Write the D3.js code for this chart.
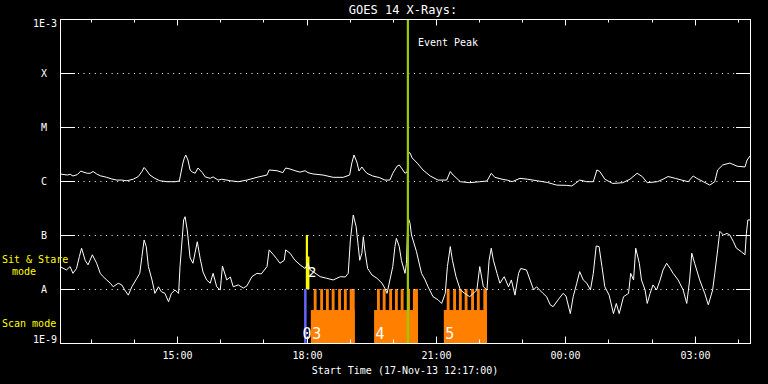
<!DOCTYPE html>
<html lang="en">
<head>
<meta charset="UTF-8">
<title>GOES 14 X-Rays</title>
<style>
  html, body { margin: 0; padding: 0; background: #000; }
  svg { display: block; background: #000; }
  text { font-family: "DejaVu Sans Mono", monospace; fill: #fff; font-size: 10px; }
  .yel { fill: #ff0; }
</style>
</head>
<body>
<svg width="768" height="384"></svg>
<script src="https://d3js.org/d3.v7.min.js"></script>
<script>
  const startTime = new Date(Date.UTC(2013, 10, 17, 12, 17));
  const spanMinutes = 960;

  // GOES 14 long channel (1-8 A): [minutes after start, W/m^2]
  const longFlux = [
    [0,1.35e-6],[10,1.29e-6],[14,1.33e-6],[18,1.24e-6],[24,1.31e-6],[29,1.53e-6],[32,1.47e-6],[38,1.39e-6],
    [42,1.39e-6],[46,1.50e-6],[51,1.35e-6],[56,1.25e-6],[65,1.17e-6],[72,1.09e-6],[79,1.04e-6],[86,1.04e-6],
    [93,1.01e-6],[102,1.08e-6],[109,1.21e-6],[114,1.50e-6],[117,1.78e-6],[120,1.60e-6],[125,1.29e-6],[132,1.12e-6],
    [139,1.01e-6],[149,9.7e-7],[160,9.7e-7],[166,1.0e-6],[171,2.15e-6],[173,2.67e-6],[175,3.03e-6],[178,2.45e-6],
    [181,1.60e-6],[184,1.47e-6],[188,1.39e-6],[192,1.74e-6],[198,1.43e-6],[202,1.19e-6],[209,1.12e-6],[213,1.19e-6],
    [220,1.04e-6],[225,1.08e-6],[237,1.01e-6],[248,9.7e-7],[260,1.04e-6],[274,1.17e-6],[288,1.29e-6],[291,1.60e-6],
    [302,1.55e-6],[310,1.43e-6],[314,1.74e-6],[320,1.67e-6],[327,1.55e-6],[334,1.46e-6],[341,1.55e-6],[345,1.43e-6],
    [352,1.35e-6],[366,1.29e-6],[380,1.17e-6],[394,1.17e-6],[403,1.29e-6],[406,2.15e-6],[409,3.03e-6],[413,2.25e-6],
    [416,1.53e-6],[420,1.82e-6],[423,1.60e-6],[427,1.39e-6],[435,1.24e-6],[445,1.15e-6],[452,1.04e-6],[459,1.04e-6],
    [463,1.39e-6],[469,1.88e-6],[472,1.98e-6],[476,1.67e-6],[480,1.39e-6],[483,1.47e-6],[485,3.4e-6],[487,3.3e-6],
    [490,2.67e-6],[497,2.15e-6],[505,1.60e-6],[515,1.24e-6],[526,1.04e-6],[538,1.04e-6],[543,1.50e-6],[547,1.29e-6],
    [557,9.7e-7],[570,9.3e-7],[584,9.7e-7],[594,1.0e-6],[600,1.39e-6],[605,1.17e-6],[615,1.08e-6],[622,1.04e-6],
    [629,9.7e-7],[640,1.12e-6],[650,1.08e-6],[664,1.01e-6],[678,9.4e-7],[691,8.4e-7],[705,8.3e-7],[712,8.1e-7],
    [717,9.0e-7],[723,1.04e-6],[733,9.7e-7],[742,9.7e-7],[747,1.60e-6],[751,1.50e-6],[758,1.08e-6],[769,9.0e-7],
    [783,9.3e-7],[793,1.08e-6],[803,1.39e-6],[810,1.21e-6],[817,9.3e-7],[831,9.7e-7],[839,1.08e-6],[846,1.21e-6],
    [856,1.12e-6],[865,1.04e-6],[874,9.7e-7],[881,1.24e-6],[886,1.12e-6],[895,9.7e-7],[904,8.4e-7],[911,9.7e-7],
    [915,1.60e-6],[922,1.98e-6],[932,2.15e-6],[942,1.88e-6],[953,1.82e-6],[956,2.45e-6],[960,2.9e-6]
  ];

  // GOES 14 short channel (0.5-4 A)
  const shortFlux = [
    [0,2.6e-8],[9,2.25e-8],[14,2.6e-8],[18,1.95e-8],[23,2.4e-8],[27,4.0e-8],[30,5.7e-8],[35,3.4e-8],
    [39,2.8e-8],[45,4.3e-8],[51,3.0e-8],[56,1.95e-8],[60,1.69e-8],[65,1.47e-8],[70,1.28e-8],[74,1.10e-8],
    [81,1.28e-8],[86,1.19e-8],[90,9.6e-9],[95,7.7e-9],[100,1.10e-8],[107,1.58e-8],[111,1.95e-8],[114,4.0e-8],
    [117,8.1e-8],[120,6.1e-8],[123,2.6e-8],[128,1.47e-8],[132,8.3e-9],[137,1.10e-8],[141,8.9e-9],[146,8.3e-9],
    [151,5.8e-9],[155,8.3e-9],[160,9.6e-9],[165,8.3e-9],[167,2.6e-8],[172,1.90e-7],[174,2.18e-7],[177,1.24e-7],
    [181,3.75e-8],[185,3.0e-8],[191,7.5e-8],[195,3.7e-8],[199,2.06e-8],[204,1.47e-8],[209,1.28e-8],[213,1.95e-8],
    [218,1.10e-8],[223,9.6e-9],[226,2.67e-8],[232,1.47e-8],[237,1.67e-8],[241,1.10e-8],[248,1.19e-8],[255,1.04e-8],
    [260,1.14e-8],[267,1.69e-8],[274,1.95e-8],[280,1.90e-8],[288,2.6e-8],[291,5.3e-8],[297,4.3e-8],[301,3.7e-8],
    [306,3.0e-8],[312,3.4e-8],[314,5.3e-8],[320,4.6e-8],[327,3.4e-8],[334,2.8e-8],[341,2.4e-8],[345,3.0e-8],
    [348,2.25e-8],[352,2.1e-8],[362,1.69e-8],[371,1.58e-8],[380,1.47e-8],[390,1.69e-8],[397,1.67e-8],[401,1.95e-8],
    [404,8.1e-8],[408,2.35e-7],[412,1.43e-7],[415,6.1e-8],[417,3.4e-8],[420,4.6e-8],[422,9.3e-8],[424,5.3e-8],
    [428,2.4e-8],[434,1.82e-8],[441,1.58e-8],[448,1.28e-8],[452,1.03e-8],[455,8.3e-9],[459,1.47e-8],[463,2.6e-8],
    [466,6.1e-8],[468,8.7e-8],[472,6.1e-8],[475,3.4e-8],[480,1.95e-8],[482,3.0e-8],[484,2.18e-7],[487,1.65e-7],
    [489,1.0e-7],[496,4.9e-8],[503,1.95e-8],[508,1.47e-8],[512,1.10e-8],[519,7.2e-9],[526,6.3e-9],[531,5.4e-9],
    [536,8.3e-9],[539,2.6e-8],[543,6.1e-8],[546,3.4e-8],[551,1.69e-8],[557,9.6e-9],[563,8.3e-9],[570,7.2e-9],
    [580,9.6e-9],[584,2.6e-8],[589,1.10e-8],[594,9.6e-9],[597,3.4e-8],[600,5.7e-8],[603,3.4e-8],[608,1.95e-8],
    [612,1.28e-8],[618,1.69e-8],[624,1.10e-8],[628,1.47e-8],[633,7.7e-9],[638,1.95e-8],[641,2.4e-8],[649,2.25e-8],
    [654,1.47e-8],[659,9.6e-9],[663,1.10e-8],[672,8.3e-9],[677,7.2e-9],[682,5.1e-9],[686,4.7e-9],[693,6.3e-9],
    [700,8.3e-9],[704,7.4e-9],[710,3.5e-9],[714,7.2e-9],[719,1.28e-8],[723,2.1e-8],[728,1.47e-8],[733,1.28e-8],
    [738,9.6e-9],[742,1.95e-8],[746,6.25e-8],[750,6.1e-8],[754,2.6e-8],[758,1.10e-8],[764,7.7e-9],[770,3.5e-9],
    [774,5.4e-9],[778,3.5e-9],[784,7.2e-9],[791,8.3e-9],[794,1.95e-8],[798,1.47e-8],[801,5.7e-8],[806,3.0e-8],
    [809,1.47e-8],[814,9.6e-9],[817,5.4e-9],[821,8.3e-9],[825,1.19e-8],[830,9.6e-9],[835,1.47e-8],[839,2.25e-8],
    [844,3.0e-8],[849,2.4e-8],[853,1.95e-8],[860,1.47e-8],[867,9.6e-9],[872,5.4e-9],[876,1.47e-8],[879,4.6e-8],
    [883,3.0e-8],[890,1.47e-8],[897,8.3e-9],[902,5.1e-9],[908,9.6e-9],[911,1.95e-8],[915,5.3e-8],[918,1.17e-7],
    [923,1.0e-7],[928,1.07e-7],[932,1.0e-7],[937,7.5e-8],[941,5.7e-8],[948,4.9e-8],[953,4.3e-8],[955,1.07e-7],
    [957,1.90e-7],[960,1.90e-7]
  ];

  const levelNames = ["A", "B", "C", "M", "X"];
  const levelFlux = [1e-8, 1e-7, 1e-6, 1e-5, 1e-4];
  const eventPeakMin = 484;

  // IRIS observations (minutes after start)
  const blueObs = [341];
  const sitStareObs = [[342, 345, 1e-7], [345, 347, 4e-8]];
  const sitStareLabels = [["2", 345]];
  const scanObs = [[349, 410], [437, 498], [534, 594]];
  const scanLabels = ["3", "4", "5"];
  const scanRasters = [
    [[353,357],[362,366],[370,374],[378,382],[387,391],[395,399],[403,410]],
    [[441,445],[449,453],[458,462],[466,470],[474,478],[483,487],[491,498]],
    [[538,542],[547,551],[555,559],[563,567],[572,576],[580,584],[589,594]]
  ];

  const svg = d3.select("svg");
  const plotL = 60, plotR = 750, plotT = 19, plotB = 343;
  const tmin = m => d3.utcMinute.offset(startTime, m);

  const x = d3.scaleUtc().domain([startTime, tmin(spanMinutes)]).range([plotL, plotR]);
  const y = d3.scaleLog().domain([1e-9, 1e-3]).range([plotB, plotT]);
  const px = v => Math.round(v) + 0.5;

  // observation bars
  const orange = "#ff8000";
  const scanBaseTop = y(1e-9) - 0.61 * (y(1e-9) - y(1e-8));
  scanObs.forEach((o, i) => {
    svg.append("rect")
      .attr("x", x(tmin(o[0]))).attr("y", scanBaseTop)
      .attr("width", x(tmin(o[1])) - x(tmin(o[0]))).attr("height", y(1e-9) - scanBaseTop)
      .attr("fill", orange);
    scanRasters[i].forEach(r => {
      svg.append("rect")
        .attr("x", x(tmin(r[0]))).attr("y", y(1e-8))
        .attr("width", x(tmin(r[1])) - x(tmin(r[0]))).attr("height", y(1e-9) - y(1e-8))
        .attr("fill", orange);
    });
  });
  blueObs.forEach(m => {
    svg.append("rect")
      .attr("x", x(tmin(m)) - 1).attr("y", y(1e-8))
      .attr("width", 2.5).attr("height", y(1e-9) - y(1e-8))
      .attr("fill", "#6464ff");
  });
  sitStareObs.forEach(o => {
    svg.append("rect")
      .attr("x", x(tmin(o[0]))).attr("y", y(o[2]))
      .attr("width", x(tmin(o[1])) - x(tmin(o[0]))).attr("height", y(1e-8) - y(o[2]))
      .attr("fill", "#ffff00");
  });

  // grid lines at flare levels
  levelFlux.forEach(f => {
    const yy = px(y(f));
    svg.append("line").attr("x1", plotL).attr("x2", plotL + 15).attr("y1", yy).attr("y2", yy).attr("stroke", "#fff");
    svg.append("line").attr("x1", plotR - 14).attr("x2", plotR).attr("y1", yy).attr("y2", yy).attr("stroke", "#fff");
    svg.append("line").attr("x1", plotL + 18).attr("x2", plotR - 14).attr("y1", yy).attr("y2", yy)
      .attr("stroke", "#fff").attr("stroke-dasharray", "1,4.6");
  });

  // flux curves
  const line = d3.line().x(d => x(tmin(d[0]))).y(d => y(d[1]));
  [longFlux, shortFlux].forEach(s => {
    svg.append("path").attr("d", line(s)).attr("fill", "none")
      .attr("stroke", "#fff").attr("stroke-width", 1);
  });

  // event peak
  svg.append("line")
    .attr("x1", x(tmin(eventPeakMin))).attr("x2", x(tmin(eventPeakMin)))
    .attr("y1", plotT).attr("y2", plotB)
    .attr("stroke", "#99cc00").attr("stroke-width", 2.2);
  svg.append("text").attr("x", x(tmin(eventPeakMin)) + 10).attr("y", 46).text("Event Peak");

  // obs labels
  svg.append("text").attr("x", x(tmin(blueObs[0])) - 2.5).attr("y", 339)
    .style("font-size", "15px").text("0");
  scanObs.forEach((o, i) => {
    svg.append("text").attr("x", x(tmin(o[0])) + 1.5).attr("y", 339)
      .style("font-size", "15px").text(scanLabels[i]);
  });
  sitStareLabels.forEach(l => {
    svg.append("text").attr("x", x(tmin(l[1]))).attr("y", 277)
      .style("font-size", "14px").text(l[0]);
  });

  // frame
  svg.append("rect").attr("x", plotL + 0.5).attr("y", plotT + 0.5)
    .attr("width", plotR - plotL).attr("height", plotB - plotT)
    .attr("fill", "none").attr("stroke", "#fff");

  // time ticks
  const hours = d3.utcHour.range(startTime, tmin(spanMinutes));
  hours.forEach(h => {
    const xx = px(x(h));
    const major = h.getUTCHours() % 3 === 0;
    const len = major ? 6.5 : 3.5;
    svg.append("line").attr("x1", xx).attr("x2", xx).attr("y1", plotT).attr("y2", plotT + len).attr("stroke", "#fff");
    svg.append("line").attr("x1", xx).attr("x2", xx).attr("y1", plotB).attr("y2", plotB - len).attr("stroke", "#fff");
    if (major) {
      svg.append("text").attr("x", xx).attr("y", 359).attr("text-anchor", "middle")
        .text(d3.utcFormat("%H:%M")(h));
    }
  });

  // y labels
  levelNames.forEach((n, i) => {
    svg.append("text").attr("x", 44).attr("y", y(levelFlux[i]) + 4)
      .attr("text-anchor", "middle").text(n);
  });
  svg.append("text").attr("x", 57).attr("y", y(1e-3) + 8).attr("text-anchor", "end").text("1E-3");
  svg.append("text").attr("x", 57).attr("y", y(1e-9)).attr("text-anchor", "end").text("1E-9");

  svg.append("text").attr("class", "yel").attr("x", 2).attr("y", 263).text("Sit & Stare");
  svg.append("text").attr("class", "yel").attr("x", 12).attr("y", 275).text("mode");
  svg.append("text").attr("class", "yel").attr("x", 2).attr("y", 327).text("Scan mode");

  // titles
  svg.append("text").attr("x", 403).attr("y", 14).attr("text-anchor", "middle")
    .style("font-size", "12px").text("GOES 14 X-Rays:");
  svg.append("text").attr("x", 405).attr("y", 374).attr("text-anchor", "middle")
    .text("Start Time (" + d3.utcFormat("%d-%b-%y %H:%M:%S")(startTime) + ")");
</script>
</body>
</html>
